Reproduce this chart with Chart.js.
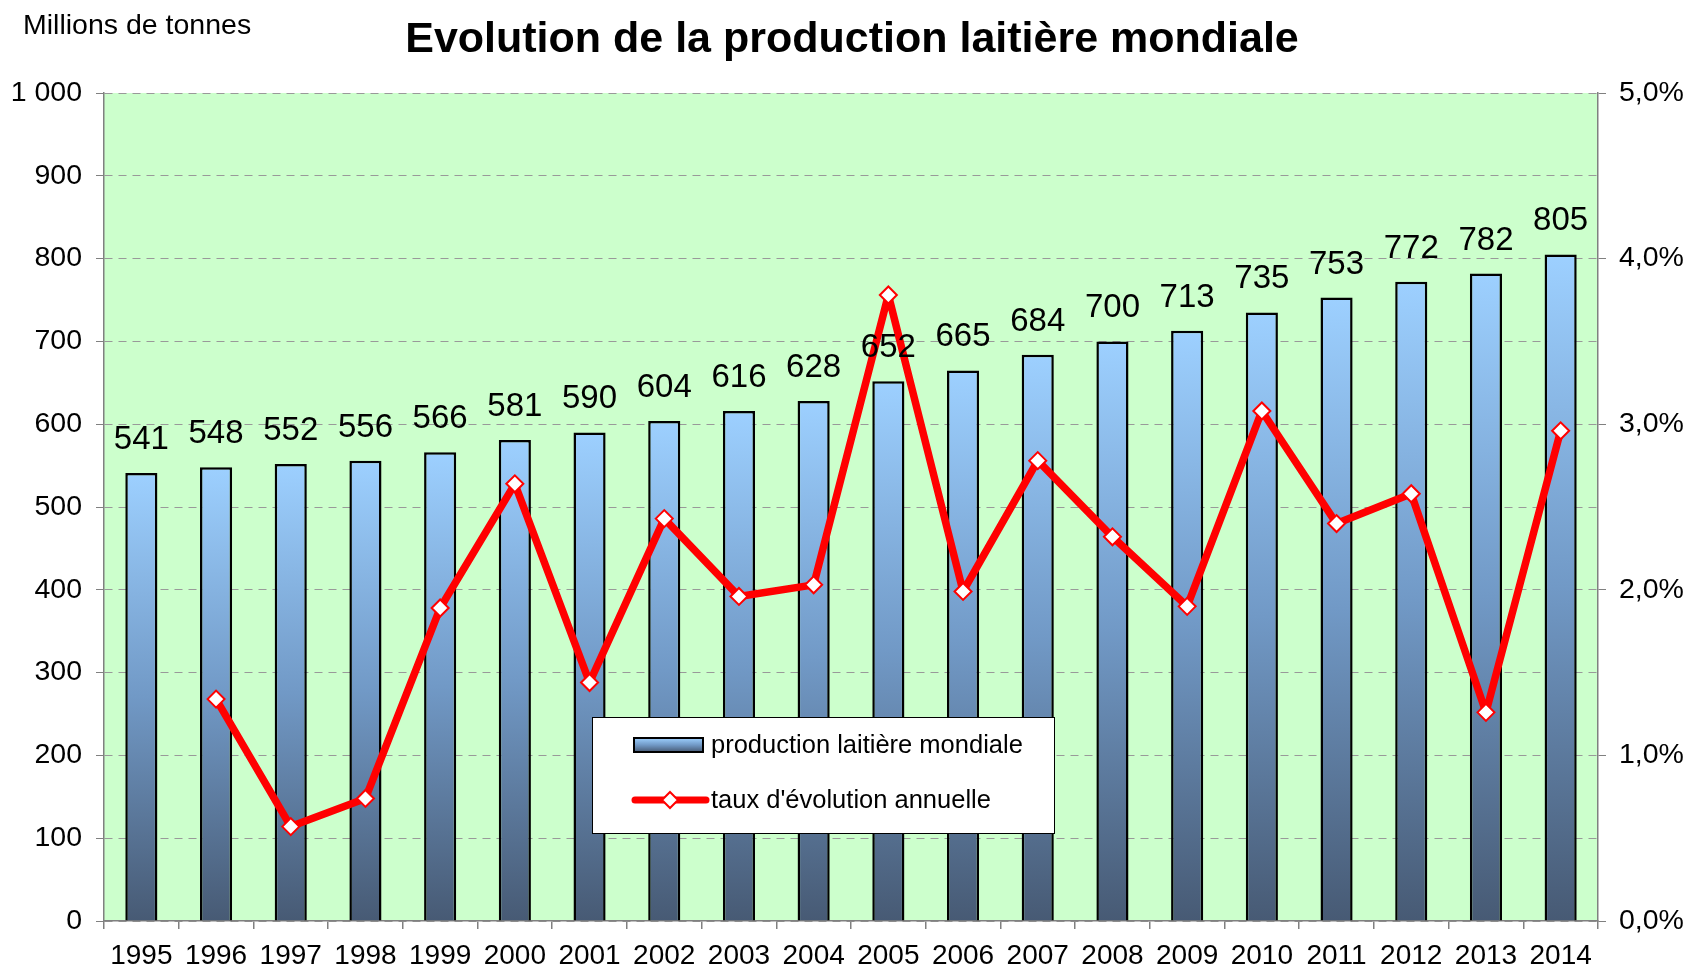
<!DOCTYPE html>
<html>
<head>
<meta charset="utf-8">
<script src="https://cdn.jsdelivr.net/npm/chart.js@4.4.1/dist/chart.umd.min.js"></script>
<style>
html,body{margin:0;padding:0;background:#fff;}
#wrap{width:1691px;height:975px;position:relative;}
</style>
</head>
<body>
<div id="wrap"><canvas id="c" width="1691" height="975"></canvas></div>
<script>
const years = ['1995','1996','1997','1998','1999','2000','2001','2002','2003','2004','2005','2006','2007','2008','2009','2010','2011','2012','2013','2014'];
const production = [541,548,552,556,566,581,590,604,616,628,652,665,684,700,713,735,753,772,782,805];
const growthRate = [null,1.34,0.57,0.74,1.89,2.64,1.44,2.43,1.96,2.03,3.78,1.99,2.78,2.32,1.90,3.08,2.40,2.58,1.26,2.96];
const leftTicks = [0,100,200,300,400,500,600,700,800,900,1000];
const rightTicks = [0,1,2,3,4,5];
const titleText = 'Evolution de la production laitière mondiale';
const unitText = 'Millions de tonnes';
const seriesNames = ['production laitière mondiale', "taux d'évolution annuelle"];

const FONT = '"Liberation Sans", Arial, sans-serif';
const AREA = {left:104, right:1598, top:93, bottom:921};

function barGradient(c, top, bot){
  const g = c.createLinearGradient(0, top, 0, bot);
  g.addColorStop(0, '#9dd0ff');
  g.addColorStop(0.5, '#7199c6');
  g.addColorStop(1, '#475a74');
  return g;
}

const bgPlugin = {
  id:'bg',
  beforeDraw(chart){
    const {ctx, chartArea:a} = chart;
    ctx.save();
    ctx.fillStyle = '#ccffcc';
    ctx.fillRect(a.left, a.top, a.right-a.left, a.bottom-a.top);
    ctx.restore();
  },
  afterDraw(chart){
    const {ctx} = chart;
    ctx.save();
    ctx.fillStyle = '#000';
    ctx.font = 'bold 43px ' + FONT;
    ctx.textAlign = 'center';
    ctx.textBaseline = 'middle';
    ctx.fillText(titleText, 852, 40);
    ctx.font = '28.5px ' + FONT;
    ctx.textAlign = 'left';
    ctx.fillText(unitText, 23, 26);
    // legend
    const lx=592, ly=717, lw=462, lh=116;
    ctx.fillStyle='#fff';
    ctx.fillRect(lx,ly,lw,lh);
    ctx.strokeStyle='#000';
    ctx.lineWidth=1;
    ctx.strokeRect(lx+0.5,ly+0.5,lw,lh);
    ctx.fillStyle = barGradient(ctx, 738, 752);
    ctx.fillRect(634,738,69,14);
    ctx.lineWidth=2;
    ctx.strokeStyle='#000';
    ctx.strokeRect(634,738,69,14);
    ctx.strokeStyle='#ff0000';
    ctx.lineWidth=7;
    ctx.lineCap='round';
    ctx.beginPath(); ctx.moveTo(635,800); ctx.lineTo(706,800); ctx.stroke();
    ctx.fillStyle='#fff'; ctx.lineWidth=2;
    ctx.beginPath(); ctx.moveTo(670,792); ctx.lineTo(678,800); ctx.lineTo(670,808); ctx.lineTo(662,800); ctx.closePath(); ctx.fill(); ctx.stroke();
    ctx.fillStyle='#000';
    ctx.font = '25.5px ' + FONT;
    ctx.textBaseline='middle';
    ctx.fillText(seriesNames[0], 711, 746);
    ctx.fillText(seriesNames[1], 711, 801);
    ctx.restore();
  }
};

const labelPlugin = {
  id:'barLabels',
  afterDatasetsDraw(chart){
    const meta = chart.getDatasetMeta(1);
    const {ctx} = chart;
    ctx.save();
    ctx.fillStyle='#000';
    ctx.font = '33px ' + FONT;
    ctx.textAlign='center';
    ctx.textBaseline='alphabetic';
    meta.data.forEach((el,i)=>{
      ctx.fillText(String(production[i]), el.x, el.y - 24);
    });
    ctx.restore();
  }
};

new Chart(document.getElementById('c'), {
  data:{
    labels: years,
    datasets:[
      {
        type:'line',
        label: seriesNames[1],
        data: growthRate,
        yAxisID:'y2',
        borderColor:'#ff0000',
        borderWidth:7.5,
        borderJoinStyle:'round',
        borderCapStyle:'round',
        pointStyle:'rectRot',
        pointRadius:8.5,
        pointBorderWidth:2,
        pointBackgroundColor:'#fff',
        pointBorderColor:'#ff0000',
        tension:0,
        order:0
      },
      {
        type:'bar',
        label: seriesNames[0],
        data: production,
        yAxisID:'y',
        backgroundColor:(ctx)=>{
          const chart = ctx.chart;
          if(!chart.chartArea) return '#7199c6';
          const y = chart.scales.y;
          const v = ctx.raw ?? 0;
          return barGradient(chart.ctx, y.getPixelForValue(v), y.getPixelForValue(0));
        },
        borderColor:'#000',
        borderWidth:2.5,
        barPercentage:0.43,
        categoryPercentage:1,
        order:1
      }
    ]
  },
  options:{
    responsive:false,
    animation:false,
    layout:{padding:{top:AREA.top, left:0, right:0, bottom:0}},
    plugins:{legend:{display:false}, title:{display:false}, tooltip:{enabled:false}},
    scales:{
      x:{
        offset:true,
        grid:{offset:true, drawOnChartArea:false, tickLength:8, color:'#808080', lineWidth:1.5},
        border:{color:'#808080', width:1.5},
        ticks:{color:'#000', font:{family:FONT, size:28}, padding:10, maxRotation:0, autoSkip:false},
        afterFit(s){ s.height = 975 - AREA.bottom; }
      },
      y:{
        position:'left',
        min:0, max:1000,
        afterBuildTicks(s){ s.ticks = leftTicks.map(v=>({value:v})); },
        grid:{color:'#999', lineWidth:1, tickLength:8, tickColor:'#808080'},
        border:{color:'#808080', width:1.5, dash:[8,6]},
        ticks:{color:'#000', font:{family:FONT, size:28.5}, padding:14,
          callback:(v)=> v>=1000 ? String(v).replace(/(\d)(\d{3})$/,'$1 $2') : String(v)},
        afterFit(s){ s.width = AREA.left; }
      },
      y2:{
        position:'right',
        min:0, max:5,
        afterBuildTicks(s){ s.ticks = rightTicks.map(v=>({value:v})); },
        grid:{drawOnChartArea:false, tickLength:8, color:'#808080'},
        border:{color:'#808080', width:1.5},
        ticks:{color:'#000', font:{family:FONT, size:28.5}, padding:13,
          callback:(v)=> v.toFixed(1).replace('.',',')+'%'},
        afterFit(s){ s.width = 1691 - AREA.right; }
      }
    }
  },
  plugins:[bgPlugin, labelPlugin]
});
</script>
</body>
</html>
